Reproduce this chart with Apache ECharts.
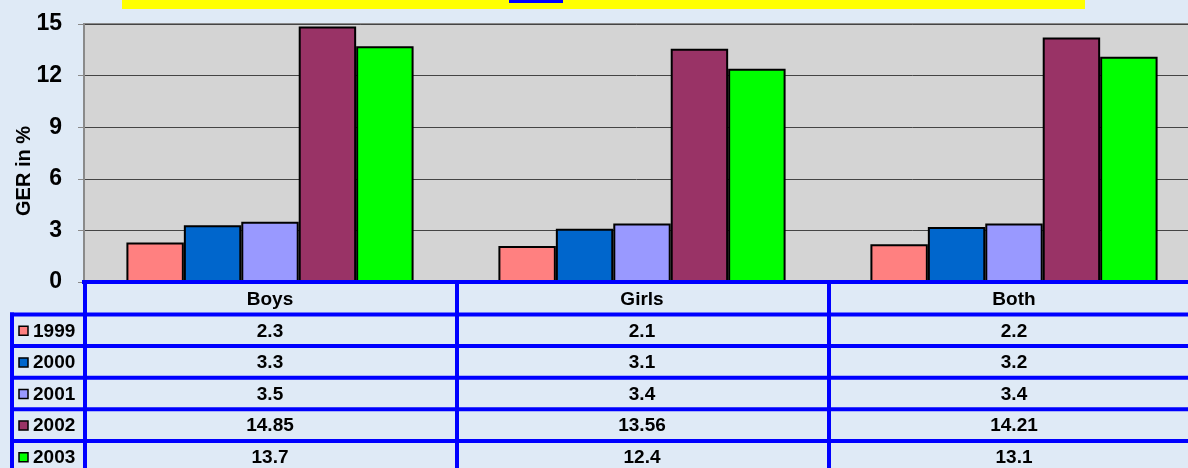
<!DOCTYPE html>
<html>
<head>
<meta charset="utf-8">
<script src="https://cdn.jsdelivr.net/npm/echarts@6/dist/echarts.min.js"></script>
<style>
html,body{margin:0;padding:0;background:#dfeaf6;}
#c{width:1188px;height:468px;}
</style>
</head>
<body>
<div id="c"></div>
<script>
const categories = ['Boys', 'Girls', 'Both'];
const years = ['1999', '2000', '2001', '2002', '2003'];
const v1999 = [2.3, 2.1, 2.2];
const v2000 = [3.3, 3.1, 3.2];
const v2001 = [3.5, 3.4, 3.4];
const v2002 = [14.85, 13.56, 14.21];
const v2003 = [13.7, 12.4, 13.1];
const tableText = [
  ['2.3', '2.1', '2.2'],
  ['3.3', '3.1', '3.2'],
  ['3.5', '3.4', '3.4'],
  ['14.85', '13.56', '14.21'],
  ['13.7', '12.4', '13.1']
];
const values = [v1999, v2000, v2001, v2002, v2003];
const colors = ['#ff8080', '#0066cc', '#9999ff', '#993366', '#00ff00'];

const FONT = 'Liberation Sans, Arial, sans-serif';
const chart = echarts.init(document.getElementById('c'));

const series = years.map((y, i) => ({
  name: y,
  type: 'bar',
  data: values[i],
  barGap: '0%',
  barCategoryGap: '22.8%',
  itemStyle: { color: colors[i], borderColor: '#000', borderWidth: 2 },
  emphasis: { disabled: true }
}));

chart.setOption({
  animation: false,
  backgroundColor: '#dfeaf6',
  textStyle: { fontFamily: FONT },
  grid: {
    left: 84, top: 24, right: -12, bottom: 186,
    containLabel: false,
    outerBoundsMode: 'none',
    show: true, backgroundColor: '#d4d4d4', borderColor: '#8a8a8a', borderWidth: 2
  },
  xAxis: {
    type: 'category',
    data: categories,
    axisLine: { show: false },
    axisTick: { show: false },
    axisLabel: { fontFamily: FONT, fontSize: 19, fontWeight: 'bold', color: '#000', margin: 8 }
  },
  yAxis: {
    type: 'value',
    min: 0, max: 15, interval: 3,
    name: 'GER in %',
    nameLocation: 'middle',
    nameGap: 50,
    nameMoveOverlap: false,
    nameTextStyle: { fontFamily: FONT, fontSize: 20, fontWeight: 'bold', color: '#000', padding: [0, 36, 0, 0] },
    axisLine: { show: true, lineStyle: { color: '#8a8a8a', width: 2 } },
    axisTick: { show: true, length: 6, lineStyle: { color: '#8a8a8a', width: 1 } },
    axisLabel: { fontFamily: FONT, fontSize: 23, fontWeight: 'bold', color: '#000', margin: 22 },
    splitLine: { show: true, lineStyle: { color: '#444', width: 1 } }
  },
  series: series
});

// Build the data table (with its legend column) below the plot from the axis scales
const y0 = chart.convertToPixel({ yAxisIndex: 0 }, 0);
const centers = categories.map((c, i) => chart.convertToPixel({ xAxisIndex: 0 }, i));
const half = (centers[1] - centers[0]) / 2;
const gridLeft = centers[0] - half;
const gridRight = centers[centers.length - 1] + half;
const rowH = 31.6;
const headerBottom = y0 + 32.5;
const blue = '#0000ff';
const g = [
  { type: 'rect', left: 122, top: 0, shape: { width: 963, height: 9 }, style: { fill: '#ffff00' }, z: 100 },
  { type: 'rect', left: 509, top: 0, shape: { width: 54, height: 3 }, style: { fill: '#0000ff' }, z: 101 }
];
const line = (x1, y1, x2, y2) => g.push({
  type: 'line', z: 110, shape: { x1, y1, x2, y2 },
  style: { stroke: blue, lineWidth: 4 }
});
line(gridLeft - 2, y0, gridRight, y0);
for (let r = 0; r < years.length; r++) {
  line(10, headerBottom + r * rowH, gridRight, headerBottom + r * rowH);
}
line(12, headerBottom - 2, 12, 470);
for (let i = 0; i < categories.length; i++) {
  line(centers[i] - half + 1, y0 - 2, centers[i] - half + 1, 470);
}
for (let r = 0; r < years.length; r++) {
  const cy = headerBottom + r * rowH + rowH / 2 + 1;
  g.push({
    type: 'rect', z: 120,
    shape: { x: 19, y: cy - 5, width: 9, height: 9 },
    style: { fill: colors[r], stroke: '#000', lineWidth: 1.5 }
  });
  g.push({
    type: 'text', z: 120, x: 33, y: cy,
    style: { text: years[r], fill: '#000', font: 'bold 19px ' + FONT, align: 'left', verticalAlign: 'middle' }
  });
  for (let i = 0; i < categories.length; i++) {
    g.push({
      type: 'text', z: 120,
      x: centers[i], y: cy,
      style: {
        text: tableText[r][i], fill: '#000',
        font: 'bold 19px ' + FONT, align: 'center', verticalAlign: 'middle'
      }
    });
  }
}
chart.setOption({ graphic: { elements: g } });
</script>
</body>
</html>
